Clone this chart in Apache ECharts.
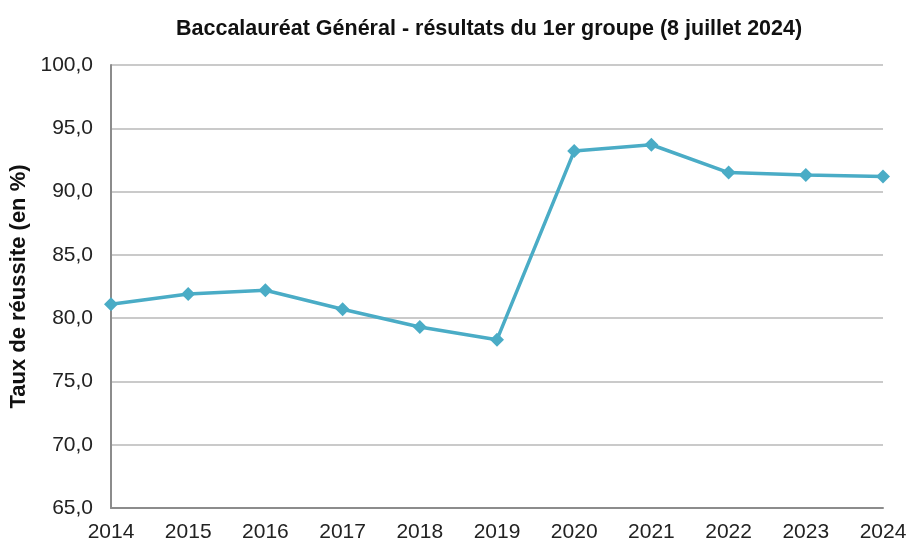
<!DOCTYPE html>
<html>
<head>
<meta charset="utf-8">
<script src="https://cdn.jsdelivr.net/npm/echarts@6/dist/echarts.min.js"></script>
<style>
  html, body { margin: 0; padding: 0; background: #fff; }
  #chart { width: 908px; height: 545px; }
</style>
</head>
<body>
<div id="chart"></div>
<script>
// données
const annees = ['2014', '2015', '2016', '2017', '2018', '2019', '2020', '2021', '2022', '2023', '2024'];
const tauxReussite = [81.1, 81.9, 82.2, 80.7, 79.3, 78.3, 93.2, 93.7, 91.5, 91.3, 91.2];

const chart = echarts.init(document.getElementById('chart'));

chart.setOption({
  animation: false,
  title: {
    text: 'Baccalauréat Général - résultats du 1er groupe (8 juillet 2024)',
    left: 171,
    top: 13,
    textStyle: {
      fontFamily: 'Liberation Sans',
      fontSize: 21.5,
      fontWeight: 'bold',
      color: '#111'
    }
  },
  grid: {
    left: 111,
    right: 25,
    top: 65,
    bottom: 37,
    outerBoundsMode: 'none'
  },
  xAxis: {
    type: 'category',
    data: annees,
    boundaryGap: false,
    axisLine: { lineStyle: { color: '#8c8c8c', width: 2 } },
    axisTick: { show: false },
    axisLabel: {
      fontFamily: 'Liberation Sans',
      fontSize: 21,
      color: '#222',
      margin: 14
    }
  },
  yAxis: {
    type: 'value',
    min: 65,
    max: 100,
    interval: 5,
    name: 'Taux de réussite (en %)',
    nameLocation: 'middle',
    nameGap: 74,
    nameTextStyle: {
      fontFamily: 'Liberation Sans',
      fontSize: 22,
      fontWeight: 'bold',
      color: '#111'
    },
    axisLine: { show: true, lineStyle: { color: '#8c8c8c', width: 2 } },
    axisTick: { show: false },
    axisLabel: {
      fontFamily: 'Liberation Sans',
      fontSize: 21,
      color: '#222',
      margin: 18,
      formatter: v => v.toFixed(1).replace('.', ',')
    },
    splitLine: { lineStyle: { color: '#b8b8b8', width: 1.5 } }
  },
  series: [{
    type: 'line',
    data: tauxReussite,
    symbol: 'diamond',
    symbolSize: 14,
    lineStyle: { color: '#4aacc6', width: 3.5 },
    itemStyle: { color: '#4aacc6' }
  }]
});
</script>
</body>
</html>
